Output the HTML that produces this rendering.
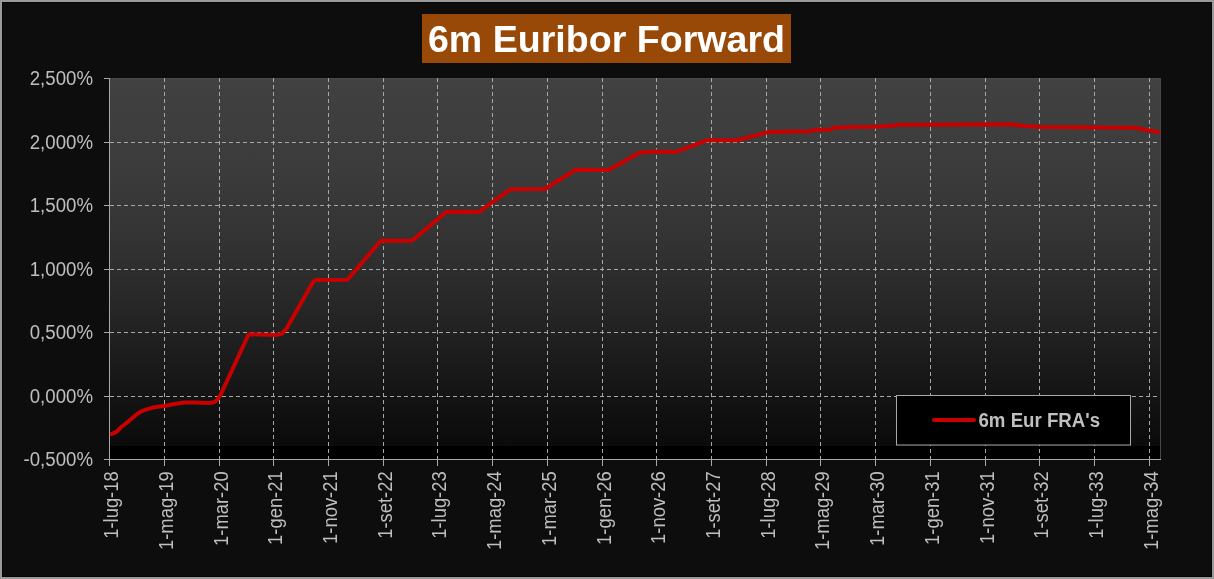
<!DOCTYPE html><html><head><meta charset="utf-8"><title>6m Euribor Forward</title><style>html,body{margin:0;padding:0;background:#0d0d0d;}svg{display:block;will-change:transform;}text{font-family:"Liberation Sans",sans-serif;}</style></head><body>
<svg width="1214" height="579" viewBox="0 0 1214 579">
<defs><linearGradient id="pg" x1="0" y1="0" x2="0" y2="1"><stop offset="0" stop-color="#424242"/><stop offset="0.04" stop-color="#404040"/><stop offset="0.264" stop-color="#3b3b3b"/><stop offset="0.44" stop-color="#333333"/><stop offset="0.617" stop-color="#272727"/><stop offset="0.78" stop-color="#1a1a1a"/><stop offset="0.89" stop-color="#121212"/><stop offset="0.98" stop-color="#0c0c0c"/><stop offset="1" stop-color="#0b0b0b"/></linearGradient></defs>
<rect x="0" y="0" width="1214" height="579" fill="#0d0d0d"/>
<rect x="1" y="1" width="1212" height="577" fill="none" stroke="#9a9a9a" stroke-width="2"/>
<rect x="2.5" y="2.5" width="1209" height="574" fill="none" stroke="#050505" stroke-width="1"/>
<rect x="422" y="14" width="369" height="49" fill="#984807"/>
<text x="606.5" y="51.5" text-anchor="middle" font-size="37.6" font-weight="bold" fill="#ffffff">6m Euribor Forward</text>
<rect x="110" y="78" width="1051" height="368" fill="url(#pg)"/>
<rect x="110" y="446" width="1051" height="13" fill="#000"/>
<path d="M110 78.5H1160.5V459" stroke="#484848" stroke-width="1" fill="none"/>
<path d="M110 142.5H1160 M110 205.5H1160 M110 269.5H1160 M110 332.5H1160 M110 396.5H1160" stroke="#a8a8a8" stroke-width="1" stroke-dasharray="4 3" fill="none"/>
<path d="M164.5 78V459 M219.5 78V459 M273.5 78V459 M328.5 78V459 M383.5 78V459 M437.5 78V459 M492.5 78V459 M547.5 78V459 M602.5 78V459 M656.5 78V459 M711.5 78V459 M766.5 78V459 M820.5 78V459 M875.5 78V459 M930.5 78V459 M985.5 78V459 M1039.5 78V459 M1094.5 78V459 M1149.5 78V459" stroke="#a8a8a8" stroke-width="1" stroke-dasharray="4 3" fill="none"/>
<path d="M109.5 78V466M104 459.5H1161" stroke="#a8a8a8" stroke-width="1" fill="none" shape-rendering="crispEdges"/>
<path d="M104 78.5H109 M104 142.5H109 M104 205.5H109 M104 269.5H109 M104 332.5H109 M104 396.5H109 M104 459.5H109 M109.5 460V466 M164.5 460V466 M219.5 460V466 M273.5 460V466 M328.5 460V466 M383.5 460V466 M437.5 460V466 M492.5 460V466 M547.5 460V466 M602.5 460V466 M656.5 460V466 M711.5 460V466 M766.5 460V466 M820.5 460V466 M875.5 460V466 M930.5 460V466 M985.5 460V466 M1039.5 460V466 M1094.5 460V466 M1149.5 460V466" stroke="#a8a8a8" stroke-width="1" fill="none"/>
<text transform="translate(93 85.0) scale(1 1.05)" text-anchor="end" font-size="18.67" fill="#bfbfbf">2,500%</text>
<text transform="translate(93 149.0) scale(1 1.05)" text-anchor="end" font-size="18.67" fill="#bfbfbf">2,000%</text>
<text transform="translate(93 212.0) scale(1 1.05)" text-anchor="end" font-size="18.67" fill="#bfbfbf">1,500%</text>
<text transform="translate(93 276.0) scale(1 1.05)" text-anchor="end" font-size="18.67" fill="#bfbfbf">1,000%</text>
<text transform="translate(93 339.0) scale(1 1.05)" text-anchor="end" font-size="18.67" fill="#bfbfbf">0,500%</text>
<text transform="translate(93 403.0) scale(1 1.05)" text-anchor="end" font-size="18.67" fill="#bfbfbf">0,000%</text>
<text transform="translate(93 466.0) scale(1 1.05)" text-anchor="end" font-size="18.67" fill="#bfbfbf">-0,500%</text>
<text transform="translate(117.7 471.3) rotate(-90) scale(1 1.05)" text-anchor="end" font-size="18.4" fill="#bfbfbf">1-lug-18</text>
<text transform="translate(172.7 471.3) rotate(-90) scale(1 1.05)" text-anchor="end" font-size="18.4" fill="#bfbfbf">1-mag-19</text>
<text transform="translate(227.7 471.3) rotate(-90) scale(1 1.05)" text-anchor="end" font-size="18.4" fill="#bfbfbf">1-mar-20</text>
<text transform="translate(281.7 471.3) rotate(-90) scale(1 1.05)" text-anchor="end" font-size="18.4" fill="#bfbfbf">1-gen-21</text>
<text transform="translate(336.7 471.3) rotate(-90) scale(1 1.05)" text-anchor="end" font-size="18.4" fill="#bfbfbf">1-nov-21</text>
<text transform="translate(391.7 471.3) rotate(-90) scale(1 1.05)" text-anchor="end" font-size="18.4" fill="#bfbfbf">1-set-22</text>
<text transform="translate(445.7 471.3) rotate(-90) scale(1 1.05)" text-anchor="end" font-size="18.4" fill="#bfbfbf">1-lug-23</text>
<text transform="translate(500.7 471.3) rotate(-90) scale(1 1.05)" text-anchor="end" font-size="18.4" fill="#bfbfbf">1-mag-24</text>
<text transform="translate(555.7 471.3) rotate(-90) scale(1 1.05)" text-anchor="end" font-size="18.4" fill="#bfbfbf">1-mar-25</text>
<text transform="translate(610.7 471.3) rotate(-90) scale(1 1.05)" text-anchor="end" font-size="18.4" fill="#bfbfbf">1-gen-26</text>
<text transform="translate(664.7 471.3) rotate(-90) scale(1 1.05)" text-anchor="end" font-size="18.4" fill="#bfbfbf">1-nov-26</text>
<text transform="translate(719.7 471.3) rotate(-90) scale(1 1.05)" text-anchor="end" font-size="18.4" fill="#bfbfbf">1-set-27</text>
<text transform="translate(774.7 471.3) rotate(-90) scale(1 1.05)" text-anchor="end" font-size="18.4" fill="#bfbfbf">1-lug-28</text>
<text transform="translate(828.7 471.3) rotate(-90) scale(1 1.05)" text-anchor="end" font-size="18.4" fill="#bfbfbf">1-mag-29</text>
<text transform="translate(883.7 471.3) rotate(-90) scale(1 1.05)" text-anchor="end" font-size="18.4" fill="#bfbfbf">1-mar-30</text>
<text transform="translate(938.7 471.3) rotate(-90) scale(1 1.05)" text-anchor="end" font-size="18.4" fill="#bfbfbf">1-gen-31</text>
<text transform="translate(993.7 471.3) rotate(-90) scale(1 1.05)" text-anchor="end" font-size="18.4" fill="#bfbfbf">1-nov-31</text>
<text transform="translate(1047.7 471.3) rotate(-90) scale(1 1.05)" text-anchor="end" font-size="18.4" fill="#bfbfbf">1-set-32</text>
<text transform="translate(1102.7 471.3) rotate(-90) scale(1 1.05)" text-anchor="end" font-size="18.4" fill="#bfbfbf">1-lug-33</text>
<text transform="translate(1157.7 471.3) rotate(-90) scale(1 1.05)" text-anchor="end" font-size="18.4" fill="#bfbfbf">1-mag-34</text>
<path d="M111.8 433.9 L116.4 431.9 L121.2 427.0 L126.7 422.9 L132.3 418.0 L137.1 413.9 L141.9 411.1 L147.5 409.1 L154.4 407.3 L161.3 406.3 L165.8 405.8 L174.4 404.0 L184.2 402.6 L194.6 402.6 L209.0 402.9 L213.6 402.3 L217.1 400.0 L220.6 394.8 L248.3 334.9 L250.9 334.3 L276.8 334.9 L282.0 333.6 L287.1 327.6 L313.0 282.0 L316.0 280.1 L347.5 279.8 L380.0 241.5 L383.0 240.6 L411.5 240.7 L414.3 238.9 L446.2 212.0 L449.0 211.8 L478.9 211.9 L510.6 189.2 L544.6 189.0 L575.7 169.8 L608.5 170.0 L639.5 152.7 L655.4 151.5 L676.1 151.9 L706.8 140.3 L737.2 140.3 L769.2 131.9 L809.6 131.3 L818.1 129.8 L830.7 129.4 L833.2 127.8 L853.0 126.9 L873.5 126.8 L892.5 125.7 L898.3 124.7 L920.0 124.7 L1010.7 124.3 L1024.7 126.1 L1041.2 126.9 L1100.0 127.4 L1135.5 127.7 L1147.7 130.2 L1158.4 132.0" stroke="#c80000" stroke-width="4" fill="none" stroke-linejoin="round" stroke-linecap="round"/>
<rect x="896.5" y="395.5" width="234" height="49.5" fill="#000" stroke="#a8a8a8" stroke-width="1"/>
<line x1="934" y1="420" x2="974" y2="420" stroke="#c80000" stroke-width="4" stroke-linecap="round"/>
<text transform="translate(978.5 426.8) scale(1 1.05)" font-size="18.67" font-weight="bold" fill="#bfbfbf">6m Eur FRA's</text>
</svg></body></html>
